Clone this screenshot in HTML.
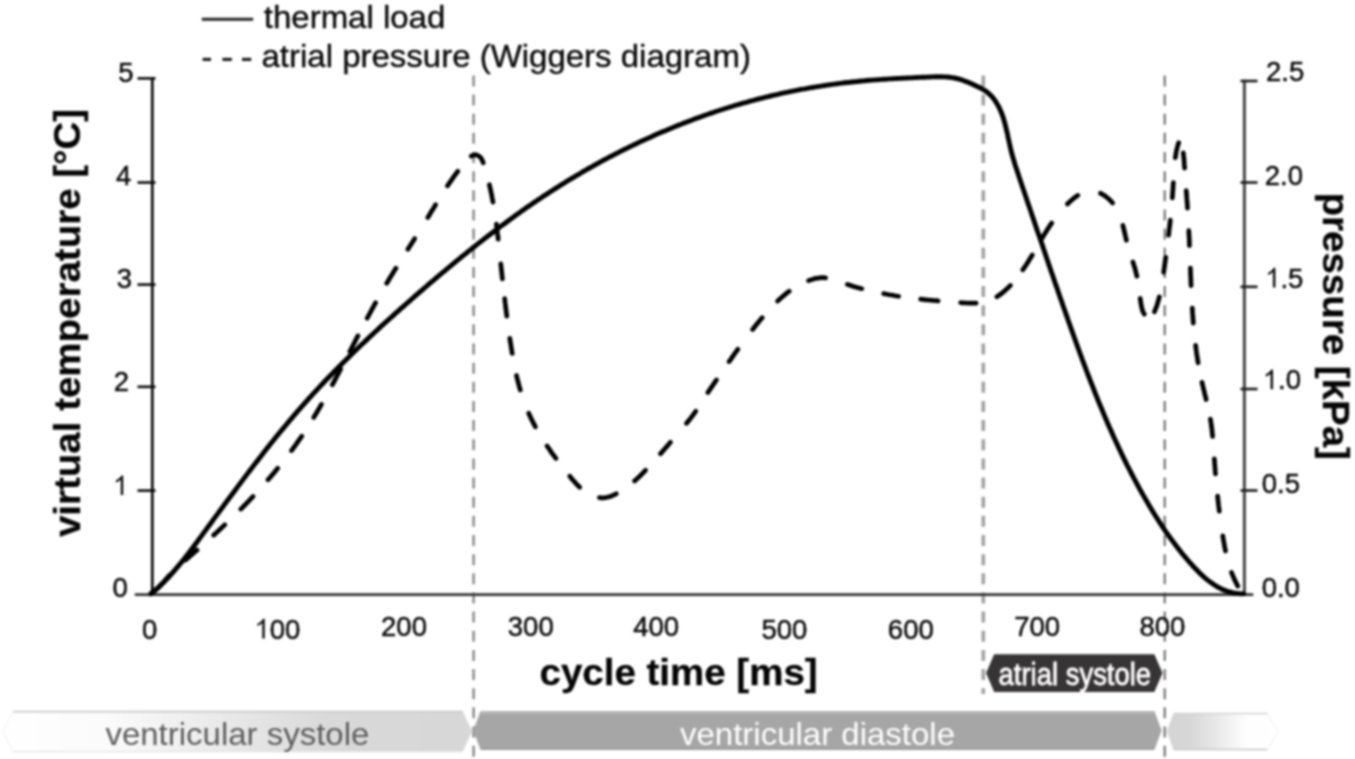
<!DOCTYPE html>
<html><head><meta charset="utf-8"><style>
html,body{margin:0;padding:0;background:#fff;}
body{width:1355px;height:759px;overflow:hidden;}
svg{display:block;filter:blur(0.85px);}
text{font-family:"Liberation Sans",sans-serif;}
</style></head><body>
<svg width="1355" height="759" viewBox="0 0 1355 759">
<rect width="1355" height="759" fill="#fff"/>
<g fill="none">
<line x1="473.6" y1="75.4" x2="473.6" y2="759" stroke="#8a8a8a" stroke-width="2.5" stroke-dasharray="11 8.15"/>
<line x1="983.3" y1="75.4" x2="983.3" y2="694" stroke="#a2a2a2" stroke-width="3.6" stroke-dasharray="11 8.15"/>
<line x1="1164.7" y1="75.4" x2="1164.7" y2="759" stroke="#6e6e6e" stroke-width="2.1" stroke-dasharray="11 8.15"/>
</g>
<g fill="none" stroke-linecap="butt">
<line x1="134.8" y1="594.6" x2="1253.3" y2="594.6" stroke="#333" stroke-width="2.9"/>
<line x1="152.3" y1="77.2" x2="152.3" y2="594.6" stroke="#0a0a0a" stroke-width="2.7"/>
<line x1="137.5" y1="78.4" x2="155.5" y2="78.4" stroke="#0a0a0a" stroke-width="2.6"/>
<line x1="137.5" y1="182.5" x2="155.5" y2="182.5" stroke="#0a0a0a" stroke-width="2.6"/>
<line x1="137.5" y1="284.6" x2="155.5" y2="284.6" stroke="#0a0a0a" stroke-width="2.6"/>
<line x1="137.5" y1="386.8" x2="155.5" y2="386.8" stroke="#0a0a0a" stroke-width="2.6"/>
<line x1="137.5" y1="490.6" x2="155.5" y2="490.6" stroke="#0a0a0a" stroke-width="2.6"/>
<line x1="1244.4" y1="79.7" x2="1244.4" y2="594.6" stroke="#4a4a4a" stroke-width="3.1"/>
<line x1="1240.5" y1="81" x2="1257.5" y2="81" stroke="#1a1a1a" stroke-width="2.6"/>
<line x1="1240.5" y1="182.5" x2="1257.5" y2="182.5" stroke="#1a1a1a" stroke-width="2.6"/>
<line x1="1240.5" y1="286.8" x2="1257.5" y2="286.8" stroke="#1a1a1a" stroke-width="2.6"/>
<line x1="1240.5" y1="389" x2="1257.5" y2="389" stroke="#1a1a1a" stroke-width="2.6"/>
<line x1="1240.5" y1="490.5" x2="1257.5" y2="490.5" stroke="#1a1a1a" stroke-width="2.6"/>
</g>
<g style="font-family:'Liberation Sans',sans-serif" font-size="27.5" fill="#0a0a0a" stroke="#0a0a0a" stroke-width="0.45">
<text x="118.19" y="81.7">5</text>
<text x="115.89" y="185.3">4</text>
<text x="116.79" y="287.6">3</text>
<text x="113.80" y="391.3">2</text>
<text x="112.55" y="596.7">0</text>
<path d="M763 0L583 0L583 1147C540 1106 483 1064 412 1022C342 980 279 949 223 928L223 1102C323 1149 410 1206 484 1272C559 1338 611 1403 642 1466L763 1466Z" transform="translate(112.96 495.1) scale(0.01343 -0.01343)"/>
<text x="1266.08" y="81.2">2.5</text>
<text x="1264.80" y="185.4">2.0</text>
<path d="M763 0L583 0L583 1147C540 1106 483 1064 412 1022C342 980 279 949 223 928L223 1102C323 1149 410 1206 484 1272C559 1338 611 1403 642 1466L763 1466Z" transform="translate(1265.12 287.5) scale(0.01343 -0.01343)"/><text x="1280.42" y="287.5">.5</text>
<text x="1261.72" y="493">0.5</text>
<text x="1261.63" y="597">0.0</text>
<path d="M763 0L583 0L583 1147C540 1106 483 1064 412 1022C342 980 279 949 223 928L223 1102C323 1149 410 1206 484 1272C559 1338 611 1403 642 1466L763 1466Z" transform="translate(1262.76 389.2) scale(0.01343 -0.01343)"/><text x="1278.05" y="389.2">.0</text>
<text x="142.00" y="638.5">0</text>
<path d="M763 0L583 0L583 1147C540 1106 483 1064 412 1022C342 980 279 949 223 928L223 1102C323 1149 410 1206 484 1272C559 1338 611 1403 642 1466L763 1466Z" transform="translate(254.46 638.5) scale(0.01343 -0.01343)"/><text x="269.75" y="638.5">00</text>
<text x="381.07" y="636.4">200</text>
<text x="507.81" y="636.2">300</text>
<text x="633.28" y="636.2">400</text>
<text x="761.51" y="638.5">500</text>
<text x="887.87" y="638.7">600</text>
<text x="1014.17" y="636.2">700</text>
<text x="1139.41" y="635.9">800</text>
</g>
<g style="font-family:'Liberation Sans',sans-serif" font-weight="bold" fill="#050505" stroke="#050505" stroke-width="0.3">
<text x="0" y="0" font-size="38.5" font-weight="bold" fill="#050505" text-anchor="middle" transform="translate(678.6 685) scale(1 0.955)" >cycle time [ms]</text>
<text x="0" y="0" font-size="38.5" font-weight="bold" fill="#050505" text-anchor="middle" transform="translate(80.4 323) rotate(-90) scale(1 0.955)">virtual temperature [°C]</text>
<text x="0" y="0" font-size="38.5" font-weight="bold" fill="#050505" text-anchor="middle" transform="translate(1322.5 326.2) rotate(90) scale(1 0.955)">pressure [kPa]</text>
</g>
<line x1="201.8" y1="19.2" x2="253.2" y2="19.2" stroke="#262626" stroke-width="3.0"/>
<line x1="202.6" y1="59.4" x2="211.0" y2="59.4" stroke="#1a1a1a" stroke-width="3.1"/>
<line x1="222.4" y1="59.4" x2="231.9" y2="59.4" stroke="#1a1a1a" stroke-width="3.1"/>
<line x1="242.0" y1="59.4" x2="251.3" y2="59.4" stroke="#1a1a1a" stroke-width="3.1"/>
<g style="font-family:'Liberation Sans',sans-serif" fill="#0a0a0a" stroke="#0a0a0a" stroke-width="0.4">
<text x="0" y="0" font-size="33" font-weight="normal" fill="#0a0a0a" text-anchor="start" transform="translate(263.8 28.1) scale(1 0.955)" >thermal load</text>
<text x="0" y="0" font-size="33" font-weight="normal" fill="#0a0a0a" text-anchor="start" transform="translate(261.5 67.1) scale(1 0.955)" >atrial pressure (Wiggers diagram)</text>
</g>
<path d="M150.8 593.9L152.7 592.3 154.6 590.6 156.5 589.0 158.4 587.3 160.2 585.6 162.0 583.8 163.8 582.1 165.5 580.3 167.3 578.5 169.0 576.7 170.7 574.9 172.3 573.0 174.0 571.1 175.6 569.2 177.2 567.3 178.8 565.4 180.4 563.5 182.0 561.6 183.6 559.6 185.1 557.6 186.6 555.7 188.2 553.7 189.7 551.7 191.2 549.7 192.7 547.7 194.2 545.7 195.7 543.7 197.2 541.7 198.7 539.7 200.2 537.6 201.7 535.6 203.1 533.6 204.6 531.6 206.1 529.6 207.6 527.5 209.1 525.5 210.6 523.5 212.1 521.5 213.5 519.4 215.0 517.4 216.5 515.4 218.0 513.4 219.5 511.3 221.0 509.3 222.5 507.3 223.9 505.3 225.4 503.3 226.9 501.2 228.4 499.2 229.9 497.2 231.4 495.2 232.9 493.2 234.4 491.2 235.9 489.2 237.4 487.1 238.9 485.1 240.4 483.1 241.9 481.1 243.4 479.1 244.9 477.1 246.4 475.1 247.9 473.1 249.4 471.1 251.0 469.1 252.5 467.1 254.0 465.1 255.5 463.1 257.1 461.2 258.6 459.2 260.1 457.2 261.7 455.2 263.2 453.2 264.7 451.3 266.3 449.3 267.8 447.3 269.4 445.4 270.9 443.4 272.5 441.5 274.1 439.5 275.6 437.6 277.2 435.6 278.8 433.7 280.4 431.7 282.0 429.8 283.6 427.9 285.2 426.0 286.8 424.0 288.4 422.1 290.0 420.2 291.6 418.3 293.2 416.4 294.8 414.5 296.5 412.6 298.1 410.7 299.8 408.8 301.4 406.9 303.1 405.1 304.7 403.2 306.4 401.3 308.0 399.5 309.7 397.6 311.4 395.8 313.1 393.9 314.8 392.1 316.5 390.3 318.2 388.4 319.9 386.6 321.6 384.8 323.3 383.0 325.0 381.1 326.8 379.3 328.5 377.5 330.2 375.7 332.0 373.9 333.7 372.1 335.5 370.4 337.2 368.6 339.0 366.8 340.8 365.0 342.5 363.2 344.3 361.5 346.1 359.7 347.9 358.0 349.6 356.2 351.4 354.5 353.2 352.7 355.0 351.0 356.8 349.2 358.6 347.5 360.4 345.8 362.2 344.0 364.1 342.3 365.9 340.6 367.7 338.9 369.5 337.1 371.4 335.4 373.2 333.7 375.0 332.0 376.9 330.3 378.7 328.6 380.5 326.9 382.4 325.2 384.2 323.5 386.1 321.8 388.0 320.2 389.8 318.5 391.7 316.8 393.6 315.1 395.4 313.4 397.3 311.8 399.2 310.1 401.0 308.4 402.9 306.8 404.8 305.1 406.7 303.5 408.6 301.8 410.5 300.2 412.3 298.5 414.2 296.9 416.1 295.2 418.0 293.6 419.9 291.9 421.8 290.3 423.7 288.6 425.6 287.0 427.5 285.4 429.4 283.7 431.3 282.1 433.3 280.5 435.2 278.9 437.1 277.2 439.0 275.6 440.9 274.0 442.8 272.4 444.8 270.8 446.7 269.2 448.6 267.6 450.5 266.0 452.5 264.4 454.4 262.8 456.3 261.2 458.3 259.6 460.2 258.0 462.2 256.4 464.1 254.9 466.1 253.3 468.0 251.7 470.0 250.1 471.9 248.6 473.9 247.0 475.9 245.5 477.8 243.9 479.8 242.4 481.8 240.8 483.7 239.3 485.7 237.8 487.7 236.2 489.7 234.7 491.7 233.2 493.7 231.7 495.7 230.2 497.7 228.6 499.7 227.1 501.7 225.6 503.7 224.2 505.7 222.7 507.7 221.2 509.7 219.7 511.8 218.2 513.8 216.8 515.8 215.3 517.9 213.8 519.9 212.4 521.9 210.9 524.0 209.5 526.0 208.1 528.1 206.6 530.2 205.2 532.2 203.8 534.3 202.4 536.4 201.0 538.4 199.6 540.5 198.2 542.6 196.8 544.7 195.4 546.8 194.1 548.9 192.7 551.0 191.3 553.1 190.0 555.2 188.6 557.3 187.3 559.4 186.0 561.5 184.6 563.7 183.3 565.8 182.0 567.9 180.7 570.1 179.4 572.2 178.1 574.4 176.8 576.5 175.5 578.7 174.3 580.9 173.0 583.0 171.7 585.2 170.5 587.4 169.2 589.5 168.0 591.7 166.8 593.9 165.5 596.1 164.3 598.3 163.1 600.5 161.9 602.7 160.7 604.9 159.5 607.1 158.4 609.3 157.2 611.6 156.0 613.8 154.9 616.0 153.7 618.2 152.6 620.5 151.4 622.7 150.3 624.9 149.2 627.2 148.1 629.4 147.0 631.7 145.9 634.0 144.8 636.2 143.7 638.5 142.6 640.7 141.6 643.0 140.5 645.3 139.5 647.6 138.4 649.9 137.4 652.1 136.4 654.4 135.3 656.7 134.3 659.0 133.3 661.3 132.3 663.6 131.4 665.9 130.4 668.2 129.4 670.6 128.4 672.9 127.5 675.2 126.5 677.5 125.6 679.8 124.7 682.2 123.8 684.5 122.9 686.8 122.0 689.2 121.1 691.5 120.2 693.9 119.3 696.2 118.4 698.6 117.6 700.9 116.7 703.3 115.9 705.7 115.0 708.0 114.2 710.4 113.4 712.8 112.6 715.1 111.8 717.5 111.0 719.9 110.2 722.3 109.5 724.7 108.7 727.0 108.0 729.4 107.2 731.8 106.5 734.2 105.7 736.6 105.0 739.0 104.3 741.4 103.6 743.9 102.9 746.3 102.3 748.7 101.6 751.1 100.9 753.5 100.3 755.9 99.6 758.4 99.0 760.8 98.4 763.2 97.8 765.7 97.2 768.1 96.6 770.5 96.0 773.0 95.4 775.4 94.8 777.9 94.3 780.3 93.7 782.8 93.2 785.2 92.7 787.7 92.2 790.1 91.6 792.6 91.1 795.0 90.7 797.5 90.2 800.0 89.7 802.4 89.2 804.9 88.8 807.4 88.3 809.8 87.9 812.3 87.5 814.8 87.1 817.2 86.7 819.7 86.3 822.2 85.9 824.7 85.5 827.2 85.1 829.6 84.8 832.1 84.4 834.6 84.1 837.1 83.8 839.6 83.4 842.0 83.1 844.5 82.8 847.0 82.5 849.5 82.3 852.0 82.0 854.5 81.7 857.0 81.5 859.5 81.2 861.9 81.0 864.4 80.8 866.9 80.5 869.4 80.3 871.9 80.1 874.4 79.9 876.9 79.8 879.4 79.6 881.9 79.4 884.4 79.2 886.9 79.1 889.4 78.9 891.9 78.8 894.4 78.6 896.9 78.5 899.4 78.4 901.9 78.2 904.4 78.1 906.9 78.0 909.4 77.9 911.9 77.8 914.4 77.6 916.9 77.5 919.4 77.4 922.0 77.3 924.5 77.2 927.0 77.1 929.5 77.0 932.0 76.9 934.6 76.8 937.1 76.8 939.6 76.7 942.1 76.8 944.6 76.9 947.1 77.0 949.5 77.3 952.0 77.6 954.4 78.0 956.8 78.5 959.2 79.1 961.6 79.8 963.9 80.7 966.3 81.6 968.6 82.6 970.9 83.6 973.2 84.6 975.6 85.7 977.9 86.7 980.2 87.8 982.4 89.0 984.6 90.3 986.6 91.7 988.5 93.3 990.3 94.9 992.0 96.7 993.6 98.6 995.1 100.6 996.4 102.7 997.7 104.9 998.9 107.1 999.9 109.3 1000.9 111.6 1001.9 113.9 1002.7 116.2 1003.5 118.6 1004.2 121.0 1004.9 123.4 1005.5 125.9 1006.1 128.4 1006.7 130.8 1007.3 133.3 1007.8 135.8 1008.3 138.3 1008.9 140.8 1009.4 143.3 1010.0 145.8 1010.5 148.3 1011.1 150.7 1011.7 153.2 1012.4 155.6 1013.1 158.0 1013.8 160.4 1014.5 162.8 1015.2 165.2 1016.0 167.6 1016.8 169.9 1017.6 172.3 1018.3 174.6 1019.1 177.0 1019.9 179.3 1020.7 181.7 1021.5 184.0 1022.3 186.4 1023.1 188.7 1023.9 191.1 1024.7 193.5 1025.5 195.8 1026.3 198.2 1027.1 200.5 1027.9 202.9 1028.7 205.2 1029.5 207.6 1030.3 210.0 1031.1 212.3 1031.9 214.7 1032.7 217.1 1033.5 219.4 1034.3 221.8 1035.1 224.1 1035.9 226.5 1036.7 228.9 1037.5 231.2 1038.3 233.6 1039.2 236.0 1040.0 238.3 1040.8 240.7 1041.6 243.1 1042.4 245.4 1043.2 247.8 1044.0 250.2 1044.8 252.6 1045.6 254.9 1046.4 257.3 1047.2 259.7 1048.0 262.0 1048.8 264.4 1049.6 266.8 1050.4 269.1 1051.2 271.5 1052.1 273.9 1052.9 276.3 1053.7 278.6 1054.5 281.0 1055.3 283.4 1056.1 285.7 1057.0 288.1 1057.8 290.5 1058.6 292.9 1059.4 295.2 1060.2 297.6 1061.1 300.0 1061.9 302.3 1062.7 304.7 1063.5 307.1 1064.4 309.4 1065.2 311.8 1066.0 314.2 1066.9 316.5 1067.7 318.9 1068.5 321.3 1069.4 323.6 1070.2 326.0 1071.0 328.4 1071.9 330.7 1072.7 333.1 1073.6 335.5 1074.4 337.8 1075.3 340.2 1076.1 342.6 1077.0 344.9 1077.8 347.3 1078.7 349.6 1079.5 352.0 1080.4 354.4 1081.3 356.7 1082.1 359.1 1083.0 361.4 1083.9 363.8 1084.8 366.1 1085.7 368.5 1086.5 370.8 1087.4 373.2 1088.3 375.5 1089.2 377.9 1090.1 380.2 1091.0 382.5 1092.0 384.9 1092.9 387.2 1093.8 389.5 1094.7 391.9 1095.6 394.2 1096.6 396.5 1097.5 398.9 1098.4 401.2 1099.4 403.5 1100.3 405.8 1101.3 408.1 1102.3 410.4 1103.2 412.7 1104.2 415.1 1105.2 417.4 1106.2 419.7 1107.1 422.0 1108.1 424.3 1109.1 426.6 1110.1 428.8 1111.2 431.1 1112.2 433.4 1113.2 435.7 1114.2 438.0 1115.3 440.3 1116.3 442.5 1117.4 444.8 1118.4 447.1 1119.5 449.3 1120.6 451.6 1121.6 453.8 1122.7 456.1 1123.8 458.3 1124.9 460.6 1126.0 462.8 1127.1 465.1 1128.3 467.3 1129.4 469.5 1130.5 471.7 1131.7 474.0 1132.8 476.2 1134.0 478.4 1135.2 480.6 1136.4 482.8 1137.5 485.0 1138.7 487.2 1139.9 489.4 1141.2 491.6 1142.4 493.8 1143.6 495.9 1144.9 498.1 1146.1 500.3 1147.4 502.4 1148.6 504.6 1149.9 506.8 1151.2 508.9 1152.5 511.0 1153.8 513.2 1155.1 515.3 1156.5 517.4 1157.8 519.5 1159.2 521.6 1160.5 523.7 1161.9 525.8 1163.3 527.9 1164.7 530.0 1166.1 532.1 1167.6 534.1 1169.0 536.2 1170.5 538.2 1172.0 540.2 1173.5 542.3 1175.0 544.3 1176.5 546.3 1178.0 548.3 1179.6 550.2 1181.1 552.2 1182.7 554.2 1184.3 556.1 1186.0 558.0 1187.6 560.0 1189.2 561.9 1190.9 563.7 1192.6 565.6 1194.3 567.5 1196.1 569.3 1197.8 571.1 1199.6 572.9 1201.4 574.7 1203.2 576.3 1205.1 578.0 1207.0 579.6 1209.0 581.1 1211.0 582.6 1213.0 584.0 1215.0 585.3 1217.1 586.6 1219.3 587.8 1221.5 588.9 1223.7 589.9 1226.0 590.8 1228.4 591.5 1230.8 592.2 1233.3 592.8 1235.8 593.3 1238.4 593.6 1241.0 593.8 1243.8 593.9" fill="none" stroke="#000" stroke-width="4.9" stroke-linejoin="round" stroke-linecap="round"/>
<path d="M151.5 592.8L153.1 591.8 154.7 590.7 156.3 589.5 157.7 588.3 159.2 586.9 160.5 585.6 161.8 584.1 163.1 582.7 164.4 581.2 165.6 579.7 166.9 578.2 168.1 576.7 169.4 575.2 M185.6 559.9L187.1 558.7 188.5 557.5 189.9 556.2 191.3 555.0 192.8 553.8 194.2 552.5 195.6 551.3 197.0 550.1 M213.7 535.1L215.1 533.9 216.5 532.6 217.9 531.3 219.3 530.0 220.6 528.7 222.0 527.4 223.4 526.1 224.8 524.8 M240.8 509.2L242.2 507.8 243.5 506.4 244.9 505.0 246.3 503.6 247.6 502.2 249.0 500.8 250.3 499.3 251.7 497.9 253.0 496.5 M268.0 479.8L269.2 478.4 270.5 477.0 271.7 475.5 272.9 474.1 274.1 472.7 275.3 471.2 276.5 469.7 277.7 468.3 M291.5 450.6L292.6 449.1 293.8 447.5 294.9 445.9 296.1 444.3 297.2 442.7 298.3 441.1 299.4 439.5 300.6 437.9 301.7 436.3 M313.7 417.4L314.7 415.8 315.7 414.2 316.7 412.6 317.6 411.0 318.6 409.3 319.5 407.7 320.5 406.1 321.4 404.4 M332.3 384.8L333.3 383.0 334.2 381.3 335.1 379.6 336.0 377.9 336.9 376.1 337.9 374.4 338.8 372.6 339.7 370.9 340.6 369.2 M349.8 351.5L350.7 349.8 351.6 348.0 352.5 346.3 353.4 344.5 354.3 342.8 355.2 341.1 356.1 339.3 357.0 337.6 357.9 335.9 M367.2 318.2L368.1 316.5 369.0 314.8 369.9 313.1 370.9 311.4 371.8 309.6 372.7 307.9 373.7 306.2 374.6 304.5 375.6 302.8 M386.7 283.3L387.7 281.7 388.7 280.0 389.7 278.3 390.7 276.6 391.8 275.0 392.8 273.3 393.8 271.6 394.8 269.9 395.9 268.3 M407.9 249.3L408.8 247.8 409.8 246.2 410.8 244.7 411.7 243.2 412.7 241.7 413.7 240.2 414.6 238.6 M427.8 217.5L428.8 215.9 429.8 214.3 430.7 212.7 431.7 211.1 432.7 209.5 433.7 207.9 434.6 206.3 435.6 204.7 M447.5 185.8L448.6 184.2 449.7 182.5 450.9 180.9 452.0 179.3 453.1 177.7 454.3 176.0 455.5 174.4 456.6 172.9 457.8 171.3 M471.3 156.1L472.9 155.3 474.7 154.8 476.5 154.9 478.1 155.6 479.6 156.6 480.9 157.9 481.8 159.5 482.6 161.1 483.2 162.8 M489.4 184.7L489.8 186.6 490.2 188.6 490.7 190.5 491.1 192.4 491.5 194.3 491.9 196.3 492.2 198.2 492.6 200.1 493.0 202.1 M496.4 224.2L496.6 226.1 496.9 227.9 497.1 229.8 497.3 231.7 497.5 233.5 497.8 235.4 498.0 237.3 498.2 239.2 M500.8 263.9L501.0 265.7 501.2 267.6 501.4 269.5 501.6 271.4 501.8 273.2 502.0 275.1 502.2 277.0 502.4 278.9 M504.7 298.7L504.9 300.6 505.1 302.5 505.4 304.5 505.6 306.4 505.8 308.4 506.1 310.3 506.3 312.3 506.6 314.2 506.8 316.2 M509.8 338.4L510.1 340.3 510.4 342.2 510.7 344.1 511.0 345.9 511.3 347.8 511.6 349.7 511.9 351.6 512.2 353.4 M516.5 375.5L516.9 377.3 517.4 379.1 517.8 381.0 518.3 382.8 518.8 384.6 519.2 386.4 519.8 388.2 520.3 390.0 M528.7 413.3L529.5 415.0 530.3 416.7 531.1 418.4 531.9 420.1 532.8 421.8 533.6 423.5 534.5 425.1 535.4 426.8 M547.1 446.0L548.2 447.6 549.3 449.1 550.3 450.7 551.4 452.3 552.5 453.8 553.7 455.4 554.8 456.9 555.9 458.4 M569.8 476.2L570.9 477.7 572.1 479.1 573.3 480.5 574.6 481.9 575.8 483.3 577.1 484.7 578.4 486.0 579.7 487.3 M599.4 497.7L601.3 497.8 603.3 497.8 605.2 497.6 607.2 497.3 609.1 496.8 610.9 496.2 612.7 495.5 614.5 494.6 616.3 493.8 M634.6 480.9L636.0 479.7 637.4 478.4 638.8 477.1 640.2 475.8 641.5 474.4 642.9 473.1 644.2 471.7 645.5 470.3 M660.5 453.7L661.8 452.3 663.0 450.9 664.2 449.5 665.5 448.0 666.7 446.6 667.9 445.2 669.2 443.7 670.4 442.3 M686.6 423.3L687.8 421.8 689.0 420.3 690.1 418.9 691.3 417.4 692.4 415.9 693.5 414.4 694.7 412.8 695.7 411.3 M707.9 392.6L708.9 391.0 710.0 389.4 711.0 387.9 712.1 386.3 713.2 384.7 714.2 383.2 715.3 381.6 716.4 380.0 M729.1 361.6L730.2 360.1 731.3 358.5 732.4 357.0 733.4 355.4 734.5 353.9 735.6 352.4 736.7 350.9 737.8 349.3 M752.6 329.5L753.8 328.0 754.9 326.5 756.1 325.0 757.3 323.5 758.5 322.1 759.7 320.6 760.9 319.1 762.2 317.7 M777.6 301.1L779.0 299.8 780.4 298.5 781.8 297.3 783.2 296.0 784.7 294.8 786.1 293.6 787.6 292.4 789.2 291.3 M808.6 280.6L810.4 279.9 812.2 279.4 814.1 278.8 816.0 278.4 817.9 278.1 819.8 277.8 821.7 277.7 823.7 277.7 825.6 277.8 M847.4 284.4L849.1 285.0 850.9 285.6 852.7 286.2 854.5 286.7 856.3 287.2 858.1 287.7 859.9 288.2 861.8 288.7 M883.6 293.6L885.5 294.0 887.4 294.3 889.2 294.7 891.1 295.0 893.0 295.3 894.9 295.7 896.7 296.0 898.6 296.3 M920.7 299.2L922.6 299.4 924.6 299.6 926.5 299.8 928.4 300.0 930.4 300.2 932.3 300.3 934.2 300.5 936.2 300.7 938.1 300.9 M960.7 302.6L962.6 302.8 964.5 302.9 966.4 303.0 968.4 303.1 970.3 303.2 972.2 303.2 974.1 303.2 976.1 303.1 M996.9 296.7L998.5 295.7 1000.1 294.5 1001.7 293.3 1003.2 292.1 1004.7 290.8 1006.2 289.5 1007.6 288.2 1009.0 286.8 1010.4 285.4 M1022.8 269.8L1023.9 268.2 1025.0 266.6 1026.1 265.0 1027.2 263.3 1028.2 261.7 1029.2 260.0 1030.2 258.3 1031.3 256.7 1032.3 255.0 M1042.4 237.8L1043.3 236.1 1044.3 234.5 1045.4 232.8 1046.4 231.2 1047.4 229.6 1048.5 227.9 1049.5 226.3 1050.6 224.7 1051.7 223.1 M1067.5 204.0L1068.8 202.7 1070.2 201.3 1071.7 200.1 1073.1 198.8 1074.6 197.6 1076.2 196.5 1077.8 195.4 M1100.5 193.3L1102.2 194.2 1103.9 195.2 1105.5 196.3 1107.0 197.5 1108.5 198.8 1110.0 200.1 1111.3 201.5 1112.6 203.0 M1122.9 225.4L1123.3 227.2 1123.8 229.1 1124.2 231.0 1124.7 232.8 1125.1 234.7 1125.5 236.6 1126.0 238.4 1126.4 240.3 M1132.9 261.9L1133.5 263.7 1134.0 265.4 1134.6 267.2 1135.1 269.0 1135.6 270.8 1136.0 272.6 1136.5 274.4 1136.9 276.2 M1140.2 298.4L1140.4 300.2 1140.7 302.0 1141.0 303.8 1141.3 305.6 1141.7 307.4 1142.1 309.2 1142.6 310.9 1143.4 312.6 1144.3 314.2 M1154.5 311.7L1155.2 309.9 1155.9 308.1 1156.6 306.2 1157.2 304.4 1157.8 302.5 1158.3 300.6 1158.9 298.7 1159.3 296.8 M1163.7 272.3L1163.9 270.4 1164.2 268.6 1164.5 266.7 1164.7 264.8 1165.0 263.0 1165.2 261.1 1165.5 259.2 1165.8 257.4 M1168.6 235.2L1168.8 233.3 1169.0 231.5 1169.2 229.6 1169.4 227.7 1169.7 225.9 1169.9 224.0 1170.1 222.1 1170.3 220.2 M1172.3 197.9L1172.5 196.0 1172.6 194.1 1172.7 192.2 1172.9 190.3 1173.0 188.4 1173.1 186.5 1173.2 184.6 1173.4 182.7 M1175.3 157.7L1175.6 155.8 1175.9 153.9 1176.2 152.0 1176.6 150.1 1177.1 148.3 1177.5 146.4 1178.1 144.6 1178.7 142.7 M1183.3 152.9L1183.5 154.8 1183.7 156.7 1183.9 158.6 1184.1 160.5 1184.2 162.4 1184.3 164.4 1184.5 166.3 1184.6 168.2 M1186.2 190.6L1186.4 192.5 1186.5 194.5 1186.7 196.4 1186.8 198.4 1187.0 200.3 1187.1 202.3 1187.3 204.2 1187.4 206.2 1187.5 208.1 M1188.8 230.5L1188.9 232.4 1189.0 234.2 1189.1 236.1 1189.2 238.0 1189.3 239.9 1189.4 241.8 1189.4 243.7 1189.5 245.6 M1190.4 268.0L1190.5 270.0 1190.5 271.9 1190.6 273.9 1190.7 275.8 1190.8 277.8 1190.9 279.8 1190.9 281.7 1191.0 283.7 1191.1 285.6 M1192.3 308.0L1192.4 309.9 1192.5 311.8 1192.6 313.7 1192.8 315.6 1192.9 317.5 1193.0 319.3 1193.2 321.2 1193.3 323.1 M1195.6 345.4L1195.9 347.3 1196.1 349.3 1196.4 351.2 1196.6 353.1 1196.9 355.1 1197.2 357.0 1197.5 358.9 1197.8 360.9 1198.1 362.8 M1202.0 382.3L1202.4 384.2 1202.9 386.1 1203.3 388.1 1203.8 390.0 1204.3 391.9 1204.7 393.8 1205.2 395.7 1205.7 397.6 1206.1 399.5 M1210.4 419.0L1210.7 420.9 1211.0 422.8 1211.3 424.8 1211.5 426.7 1211.8 428.7 1212.0 430.6 1212.2 432.6 1212.4 434.5 1212.6 436.5 M1214.3 458.8L1214.5 460.7 1214.6 462.6 1214.7 464.5 1214.9 466.4 1215.0 468.3 1215.2 470.2 1215.3 472.0 1215.5 473.9 M1217.6 496.2L1217.8 498.1 1218.0 500.0 1218.2 501.9 1218.4 503.7 1218.6 505.6 1218.9 507.5 1219.1 509.4 1219.3 511.2 M1222.8 535.9L1223.1 537.8 1223.4 539.7 1223.7 541.6 1224.1 543.4 1224.4 545.3 1224.7 547.2 1225.1 549.0 1225.5 550.9 M1231.5 572.4L1232.2 574.2 1232.9 575.9 1233.7 577.6 1234.4 579.3 1235.2 581.1 1236.1 582.7 1236.9 584.4 1237.8 586.1" fill="none" stroke="#000" stroke-width="4.7" stroke-linejoin="round" stroke-linecap="round"/>
<defs>
<linearGradient id="gs" x1="0" y1="0" x2="1" y2="0" gradientUnits="objectBoundingBox">
<stop offset="0" stop-color="#fff"/><stop offset="0.22" stop-color="#fbfbfb"/><stop offset="0.70" stop-color="#d9d9d9"/><stop offset="1" stop-color="#d7d7d7"/>
</linearGradient>
<linearGradient id="gr" x1="0" y1="0" x2="1" y2="0" gradientUnits="objectBoundingBox">
<stop offset="0" stop-color="#d4d4d4"/><stop offset="0.22" stop-color="#d7d7d7"/><stop offset="0.72" stop-color="#fefefe"/><stop offset="1" stop-color="#fff"/>
</linearGradient>
</defs>
<polygon points="13,711 462.5,711 472.2,731.2 462.5,751.8 13,751.8 3,731.2" fill="url(#gs)"/>
<line x1="13" y1="711.6" x2="462.5" y2="711.6" stroke="#c9c9c9" stroke-width="1.6"/>
<line x1="13" y1="751.6" x2="462.5" y2="751.6" stroke="#e4e4e4" stroke-width="1.2"/>
<polyline points="13,711 3,731.2 13,751.8" fill="none" stroke="#e6e6e6" stroke-width="1" stroke-dasharray="2 2"/>
<polygon points="480.6,711 1154.4,711 1161.6,730.5 1154.4,750 480.6,750 473.2,730.5" fill="#a6a6a6"/>
<line x1="481" y1="712.6" x2="1154" y2="712.6" stroke="#b8b8b8" stroke-width="2.6"/>
<line x1="481" y1="749" x2="1154" y2="749" stroke="#9d9d9d" stroke-width="2"/>
<polygon points="1173.5,713 1267.3,713 1277.8,731.3 1267.3,750 1173.5,750 1166.8,731.3" fill="url(#gr)"/>
<line x1="1173.5" y1="713.6" x2="1267.3" y2="713.6" stroke="#d2d2d2" stroke-width="1.5"/>
<line x1="1173.5" y1="749.5" x2="1267.3" y2="749.5" stroke="#c8c8c8" stroke-width="1.5"/>
<polyline points="1267.3,713 1277.8,731.3 1267.3,750" fill="none" stroke="#e2e2e2" stroke-width="1" stroke-dasharray="2 2"/>
<polygon points="994.2,654.2 1154.3,654.2 1162.5,673 1154.3,691.9 994.2,691.9 986.1,673" fill="#373435"/>
<g style="font-family:'Liberation Sans',sans-serif">
<text x="0" y="0" font-size="33" font-weight="normal" fill="#5e5e5e" text-anchor="start" transform="translate(105.4 744.9) scale(1 0.955)" >ventricular systole</text>
<text x="0" y="0" font-size="33" font-weight="normal" fill="#fff" text-anchor="start" transform="translate(680 744.9) scale(1 0.955)" >ventricular diastole</text>
<text x="0" y="0" font-size="33.4" fill="#fff" stroke="#fff" stroke-width="0.8" transform="translate(998.6 684.9) scale(0.822 0.965)">atrial systole</text>
</g>
</svg>
</body></html>
